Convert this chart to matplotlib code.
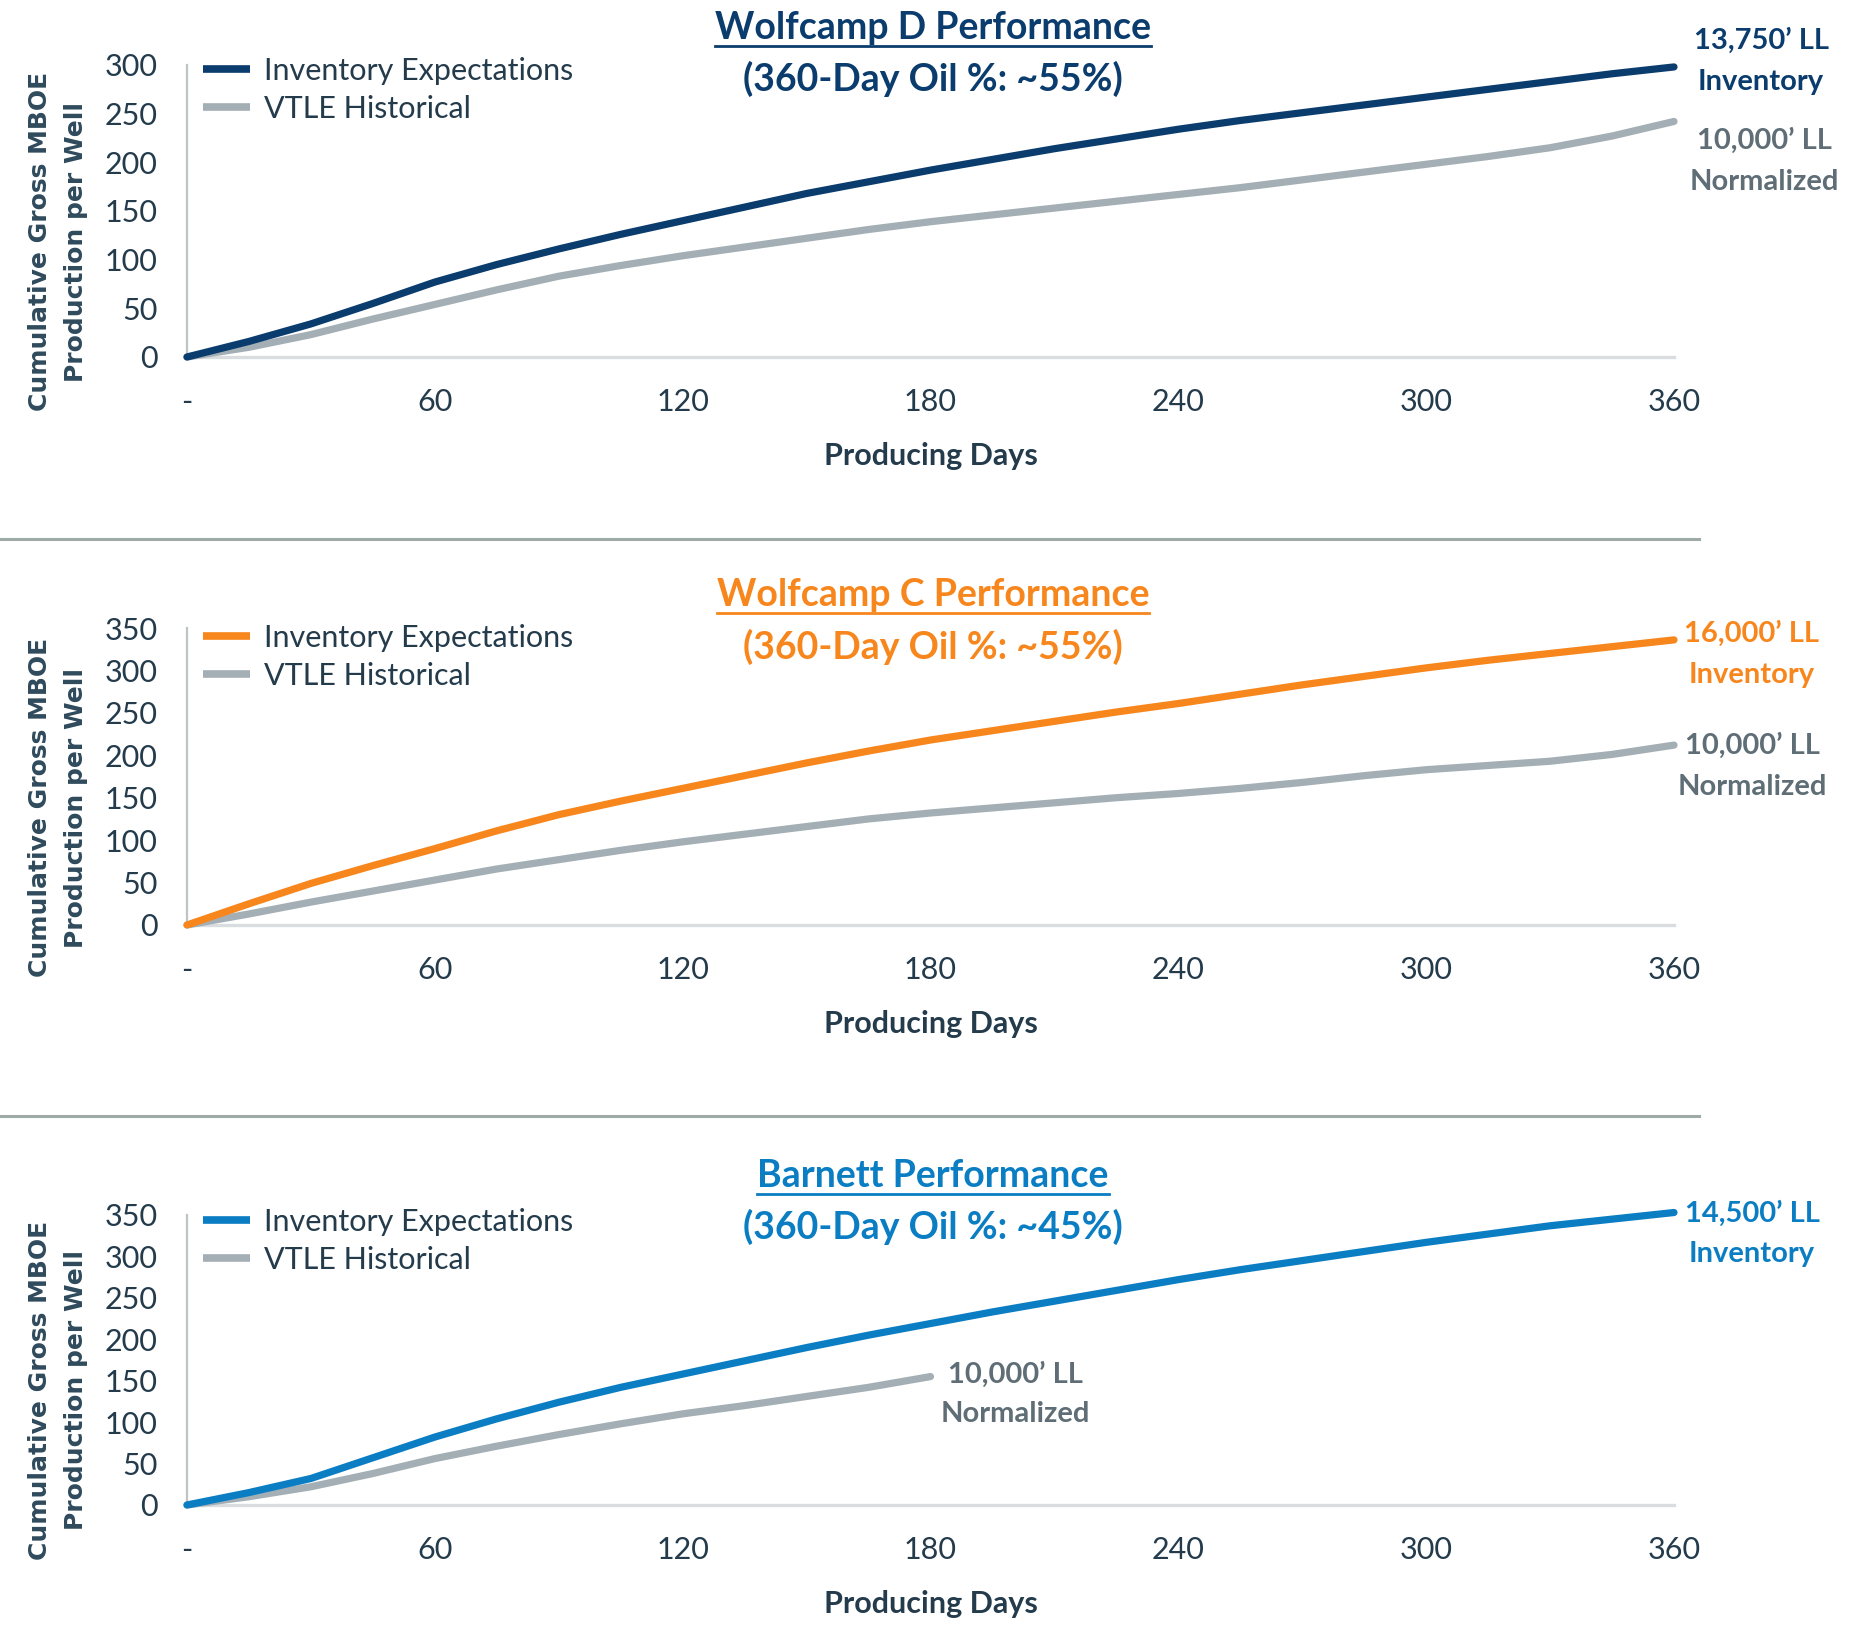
import matplotlib
matplotlib.use("Agg")
import matplotlib.pyplot as plt
from matplotlib.lines import Line2D

# ---------------- data ----------------
days_full = [0, 15, 30, 45, 60, 75, 90, 105, 120, 135, 150, 165, 180, 195, 210, 225,
             240, 255, 270, 285, 300, 315, 330, 345, 360]
wcd_inv = [0, 16, 34, 55, 77, 95, 111, 126, 140, 154, 168, 180, 192, 203, 214, 224,
           234, 243, 251, 259, 267, 275, 283, 291, 298]
wcd_hist = [0, 10, 23, 39, 54, 69, 83, 94, 104, 113, 122, 131, 139, 146, 153, 160,
            167, 174, 182, 190, 198, 206, 215, 227, 242]

wcc_inv = [0, 25, 49, 70, 90, 111, 130, 146, 161, 176, 191, 205, 218, 229, 240, 251,
           261, 272, 283, 293, 303, 312, 320, 328, 336]
wcc_hist = [0, 13, 27, 40, 53, 66, 77, 88, 98, 107, 116, 125, 132, 138, 144, 150,
            155, 161, 168, 176, 183, 188, 193, 201, 212]

bar_inv = [0, 15, 32, 57, 82, 104, 124, 142, 158, 174, 190, 205, 219, 233, 246, 259,
           272, 284, 295, 306, 317, 327, 337, 345, 353]
days_b_hist = [0, 15, 30, 45, 60, 75, 90, 105, 120, 135, 150, 165, 180]
bar_hist = [0, 10, 22, 38, 56, 71, 85, 98, 110, 120, 131, 142, 155]

x_ticks = [0, 60, 120, 180, 240, 300, 360]
x_tick_labels = ["-", "60", "120", "180", "240", "300", "360"]
y_ticks_d = [0, 50, 100, 150, 200, 250, 300]
y_ticks_cb = [0, 50, 100, 150, 200, 250, 300, 350]

titles = ["Wolfcamp D Performance", "Wolfcamp C Performance", "Barnett Performance"]
subtitles = ["(360-Day Oil %: ~55%)", "(360-Day Oil %: ~55%)", "(360-Day Oil %: ~45%)"]
inv_labels = [("13,750\u2019 LL", "Inventory"), ("16,000\u2019 LL", "Inventory"), ("14,500\u2019 LL", "Inventory")]
hist_label = ("10,000\u2019 LL", "Normalized")
legend_labels = ["Inventory Expectations", "VTLE Historical"]

# ---------------- style ----------------
NAVY = "#0B3C6E"
ORANGE = "#F7861D"
BLUE = "#0A7DC3"
GRAY_LINE = "#A3AFB5"
GRAY_TEXT = "#5F6E76"
DARK = "#243B4C"
YLAB = "#2F4A5C"

FONT = ["Lato", "Open Sans", "DejaVu Sans"]
plt.rcParams["font.family"] = FONT

W, H = 1866, 1632
fig = plt.figure(figsize=(W / 100, H / 100), dpi=100)

def fx(px):
    return px / W

def fy(py):
    return 1 - py / H

left_px, right_px = 187, 1674
panels = [
    dict(bottom=357, top=65, ymax=300, yticks=y_ticks_d, color=NAVY,
         xi=days_full, yi=wcd_inv, xh=days_full, yh=wcd_hist, leg_off=8,
         title_y=28, sub_y=79, inv_lab=(1761, 41, 82), hist_lab=(1764, 141, 182)),
    dict(bottom=925, top=628, ymax=350, yticks=y_ticks_cb, color=ORANGE,
         xi=days_full, yi=wcc_inv, xh=days_full, yh=wcc_hist, leg_off=4,
         title_y=595, sub_y=647, inv_lab=(1752, 634, 675), hist_lab=(1752, 746, 787)),
    dict(bottom=1505, top=1215, ymax=350, yticks=y_ticks_cb, color=BLUE,
         xi=days_full, yi=bar_inv, xh=days_b_hist, yh=bar_hist, leg_off=7,
         title_y=1176, sub_y=1227, inv_lab=(1752, 1214, 1254), hist_lab=(1015, 1375, 1414)),
]

title_texts = []
for i, p in enumerate(panels):
    ax = fig.add_axes([fx(left_px), fy(p["bottom"]), fx(right_px - left_px),
                       (p["bottom"] - p["top"]) / H])
    ax.plot(p["xh"], p["yh"], color=GRAY_LINE, lw=5.2, solid_capstyle="round",
            solid_joinstyle="round", label=legend_labels[1], zorder=3, clip_on=False)
    ax.plot(p["xi"], p["yi"], color=p["color"], lw=5.2, solid_capstyle="round",
            solid_joinstyle="round", label=legend_labels[0], zorder=4, clip_on=False)
    ax.set_xlim(0, 360)
    ax.set_ylim(0, p["ymax"])
    ax.set_xticks(x_ticks)
    ax.set_xticklabels(x_tick_labels)
    ax.set_yticks(p["yticks"])
    for s in ["top", "right"]:
        ax.spines[s].set_visible(False)
    ax.spines["bottom"].set_color("#D9DDDF")
    ax.spines["bottom"].set_linewidth(2.4)
    ax.spines["left"].set_color("#BFC3C5")
    ax.spines["left"].set_linewidth(1.6)
    ax.tick_params(axis="both", length=0, labelsize=22, colors=DARK)
    ax.tick_params(axis="x", pad=22)
    ax.tick_params(axis="y", pad=21)
    ax.patch.set_alpha(0)
    ax.set_xlabel("Producing Days", fontsize=22, fontweight="bold", color=DARK, labelpad=19)
    ax.set_ylabel("Cumulative Gross MBOE\nProduction per Well", fontsize=18, fontweight="bold",
                  color=YLAB, family="DejaVu Sans", linespacing=1.62)
    ax.yaxis.set_label_coords((88 - left_px) / (right_px - left_px), 0.395)
    h, l = ax.get_legend_handles_labels()
    leg = ax.legend(h[::-1], l[::-1], loc="upper left",
                    bbox_to_anchor=(fx(203), fy(p["top"] - p["leg_off"])),
                    bbox_transform=fig.transFigure,
                    frameon=False, fontsize=22, handlelength=1.55, handletextpad=0.45,
                    labelspacing=0.32, borderaxespad=0, borderpad=0)
    for t in leg.get_texts():
        t.set_color(DARK)
    for lh in leg.get_lines():
        lh.set_linewidth(5.5)
        lh.set_solid_capstyle("butt")

    tt = fig.text(fx(933), fy(p["title_y"]), titles[i], ha="center", va="center",
                  fontsize=27, fontweight="bold", color=p["color"])
    title_texts.append((tt, p["color"]))
    fig.text(fx(933), fy(p["sub_y"]), subtitles[i], ha="center", va="center",
             fontsize=27, fontweight="bold", color=p["color"])
    xl, y1, y2 = p["inv_lab"]
    fig.text(fx(xl), fy(y1), inv_labels[i][0], ha="center", va="center", fontsize=21,
             fontweight="bold", color=p["color"])
    fig.text(fx(xl), fy(y2), inv_labels[i][1], ha="center", va="center", fontsize=21,
             fontweight="bold", color=p["color"])
    xl, y1, y2 = p["hist_lab"]
    fig.text(fx(xl), fy(y1), hist_label[0], ha="center", va="center", fontsize=21,
             fontweight="bold", color=GRAY_TEXT)
    fig.text(fx(xl), fy(y2), hist_label[1], ha="center", va="center", fontsize=21,
             fontweight="bold", color=GRAY_TEXT)

# separators
for ypx in [539, 1116]:
    fig.add_artist(Line2D([0, fx(1699)], [fy(ypx), fy(ypx)], color="#9DAAA6", lw=2.2,
                          transform=fig.transFigure))

# underline titles
fig.canvas.draw()
r = fig.canvas.get_renderer()
for tt, c in title_texts:
    bb = tt.get_window_extent(renderer=r)
    yline = bb.y0 - 1
    fig.add_artist(Line2D([bb.x0 / W, bb.x1 / W], [yline / H, yline / H], color=c, lw=2,
                          transform=fig.transFigure))

fig.savefig("out.png", dpi=100, facecolor="white")
